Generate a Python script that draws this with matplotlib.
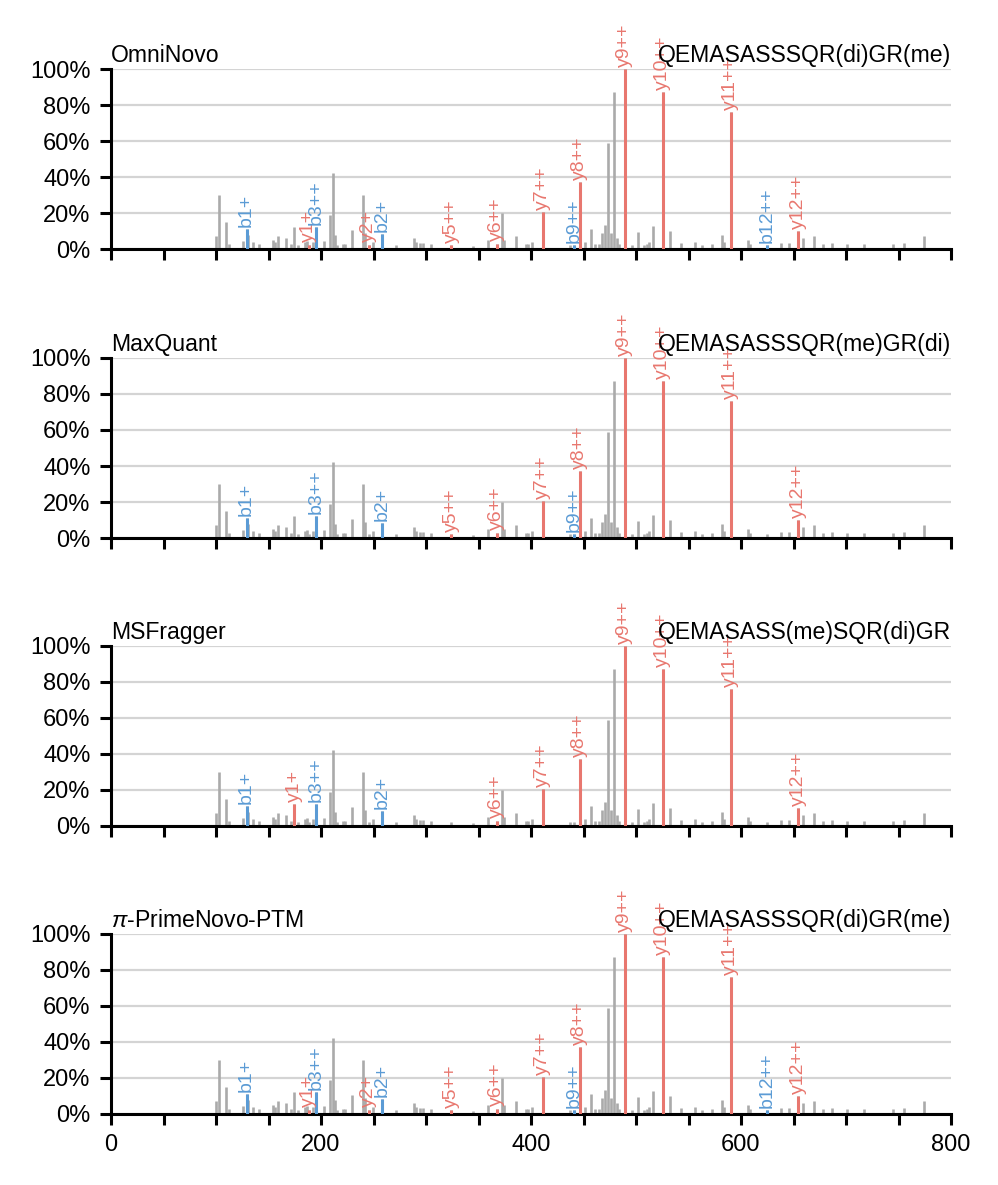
import matplotlib
matplotlib.use("Agg")
import matplotlib.pyplot as plt
import numpy as np
from matplotlib.ticker import FuncFormatter, MultipleLocator, PercentFormatter

plt.rcParams["font.family"] = ["Liberation Sans", "DejaVu Sans"]
plt.rcParams["mathtext.fontset"] = "custom"
plt.rcParams["mathtext.rm"] = "Liberation Sans"
plt.rcParams["mathtext.it"] = "Liberation Sans:italic"

# spectrum peaks (m/z, relative intensity in %), shared by all panels
MZ = [100.1, 103.2, 109.6, 112.1, 126.1, 129.1, 130.9, 135.7, 140.7, 154.1,
      156.3, 158.8, 166.2, 171.5, 174.4, 177.9, 184.3, 186.5, 188.4, 192.2,
      195.4, 202.4, 209.0, 211.3, 213.5, 215.4, 220.8, 223.3, 229.7, 239.9,
      242.1, 245.6, 249.4, 258.3, 271.0, 288.5, 290.7, 294.5, 296.8, 304.8,
      323.8, 344.8, 358.7, 367.2, 372.3, 374.7, 385.9, 395.0, 397.4, 401.1,
      411.0, 436.8, 440.8, 446.3, 451.0, 457.1, 461.2, 464.6, 468.0, 470.7,
      473.8, 476.5, 479.2, 481.6, 483.6, 489.4, 489.9, 495.8, 501.9, 507.7,
      510.4, 512.8, 516.5, 525.4, 525.9, 532.5, 542.7, 556.2, 563.0, 572.5,
      581.7, 584.1, 590.2, 590.7, 606.5, 608.9, 624.8, 637.7, 645.5, 654.7,
      659.1, 669.9, 677.7, 686.9, 700.5, 716.8, 744.6, 754.8, 774.1]
INTENSITY = [7, 30, 15, 3, 4.5, 11, 8, 4, 3, 5,
             4, 7, 6, 3, 12, 2, 4, 4.5, 2.5, 4,
             12.4, 4.5, 19, 42, 8, 2, 3, 3, 10.5, 30,
             9, 2.5, 4, 8.5, 2, 6, 4, 3.5, 3.5, 3,
             2, 1.5, 5, 3, 20, 5, 7, 3, 3, 4,
             20.4, 2, 2, 37.4, 4, 11, 3, 3, 9, 13.5,
             59, 9, 87.4, 6, 3, 100, 44, 2, 9.6, 2,
             3, 4, 12.8, 87, 40, 10, 3.5, 4, 2.5, 3,
             8, 4, 76, 44, 5, 3, 2, 3.5, 3.5, 10,
             6, 7, 3, 3.5, 3, 3, 3, 3.5, 7]

TOOLS = ["OmniNovo", "MaxQuant", "MSFragger", r"$\pi$-PrimeNovo-PTM"]
PEPTIDES = ["QEMASASSSQR(di)GR(me)", "QEMASASSSQR(me)GR(di)",
            "QEMASASS(me)SQR(di)GR", "QEMASASSSQR(di)GR(me)"]

# matched fragment ions per tool: label and m/z of the matched peak
OMNI_IONS = ["b1+", "y1+", "b3++", "y2+", "b2+", "y5++", "y6++", "y7++", "b9++",
             "y8++", "y9++", "y10++", "y11++", "b12++", "y12++"]
OMNI_MZ = [129.1, 188.4, 195.4, 245.6, 258.3, 323.8, 367.2, 411.0, 440.8,
           446.3, 489.4, 525.4, 590.2, 624.8, 654.7]
MAXQ_IONS = ["b1+", "b3++", "b2+", "y5++", "y6++", "y7++", "b9++", "y8++",
             "y9++", "y10++", "y11++", "y12++"]
MAXQ_MZ = [129.1, 195.4, 258.3, 323.8, 367.2, 411.0, 440.8, 446.3, 489.4,
           525.4, 590.2, 654.7]
MSF_IONS = ["b1+", "y1+", "b3++", "b2+", "y6++", "y7++", "y8++", "y9++",
            "y10++", "y11++", "y12++"]
MSF_MZ = [129.1, 174.4, 195.4, 258.3, 367.2, 411.0, 446.3, 489.4, 525.4,
          590.2, 654.7]
PRIME_IONS = OMNI_IONS
PRIME_MZ = OMNI_MZ

PANEL_IONS = [(OMNI_IONS, OMNI_MZ), (MAXQ_IONS, MAXQ_MZ),
              (MSF_IONS, MSF_MZ), (PRIME_IONS, PRIME_MZ)]

GRAY = "#aaaaaa"
RED = "#e8776f"
BLUE = "#5b9bd5"

W, H = 998, 1185
fig = plt.figure(figsize=(W / 200, H / 200), dpi=200)

mz = np.array(MZ)
inten = np.array(INTENSITY) / 100.0
bottoms_px = [249, 538, 826, 1114]

for i, (tool, pep, (labels, ion_mz)) in enumerate(zip(TOOLS, PEPTIDES, PANEL_IONS)):
    ax = fig.add_axes([111 / W, (H - bottoms_px[i]) / H, 840 / W, 180 / H])
    ax.vlines(mz, 0, inten, color=GRAY, lw=0.95, zorder=2)
    for lab, m in zip(labels, ion_mz):
        h = inten[np.argmin(np.abs(mz - m))]
        col = BLUE if lab.startswith("b") else RED
        ax.vlines(m, 0, h, color=col, lw=1.1, zorder=3)
        ax.text(m, h + 0.012, lab, rotation=90, ha="center", va="bottom",
                fontsize=7, color=col, clip_on=False, zorder=4)

    ax.set_xlim(0, 800)
    ax.set_ylim(0, 1)
    ax.set_yticks([0, 0.2, 0.4, 0.6, 0.8, 1.0])
    ax.yaxis.set_major_formatter(PercentFormatter(1.0, decimals=0))
    ax.xaxis.set_major_locator(MultipleLocator(50))
    ax.xaxis.set_major_formatter(
        FuncFormatter(lambda v, p: f"{v:.0f}" if v % 200 == 0 else ""))
    ax.grid(axis="y", color="#d4d4d4", lw=0.8, zorder=0)
    ax.set_axisbelow(True)
    for s in ["top", "right"]:
        ax.spines[s].set_visible(False)
    for s in ["left", "bottom"]:
        ax.spines[s].set_linewidth(1.1)
    ax.tick_params(axis="both", length=3.8, width=1.1, labelsize=8.5, pad=3.5)
    if i < 3:
        ax.tick_params(axis="x", labelbottom=False)

    ax.text(0.0, 1.04, tool, transform=ax.transAxes, ha="left", va="baseline",
            fontsize=8.3)
    ax.text(1.0, 1.04, pep, transform=ax.transAxes, ha="right", va="baseline",
            fontsize=8.3, zorder=5)

fig.savefig("out.png", dpi=200)
